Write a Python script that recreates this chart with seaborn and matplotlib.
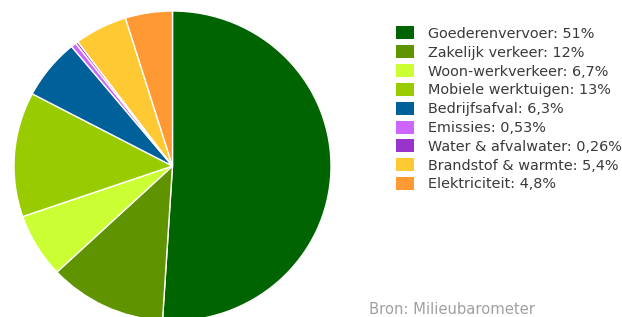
import matplotlib
matplotlib.use("Agg")
import matplotlib.pyplot as plt
from matplotlib.patches import Patch
import seaborn as sns

categories = ["Goederenvervoer", "Zakelijk verkeer", "Woon-werkverkeer", "Mobiele werktuigen",
              "Bedrijfsafval", "Emissies", "Water & afvalwater", "Brandstof & warmte", "Elektriciteit"]
values = [51, 12, 6.7, 13, 6.3, 0.53, 0.26, 5.4, 4.8]
value_labels = ["51%", "12%", "6,7%", "13%", "6,3%", "0,53%", "0,26%", "5,4%", "4,8%"]
colors = ["#006400", "#5f9400", "#ccff33", "#99cc00", "#00609a", "#cc66ff", "#9933cc", "#ffc933", "#ff9933"]
source = "Bron: Milieubarometer"

sns.set_theme(style="white")
plt.rcParams['font.family'] = ['DejaVu Sans']

W, H = 622, 317
fig = plt.figure(figsize=(W / 100, H / 100), dpi=100)
# pie box: x 14..331, y 11..321 (pixels from top)
ax = fig.add_axes([14 / W, (H - 321) / H, 317 / W, 310 / H])
ax.pie(values, colors=colors, startangle=90, counterclock=False, radius=1,
       wedgeprops=dict(edgecolor="white", linewidth=1.0))
ax.set_xlim(-1, 1)
ax.set_ylim(-1, 1)
ax.set_aspect("auto")
ax.axis("off")

fs = 10.4
handles = [Patch(facecolor=c, edgecolor="none") for c in colors]
labels = [f"{c}: {v}" for c, v in zip(categories, value_labels)]
leg = fig.legend(handles, labels, loc="upper left", bbox_to_anchor=(396 / W, 1 - 26.5 / H),
                 frameon=False, fontsize=fs, handlelength=1.25, handleheight=1.0,
                 handletextpad=0.95, labelspacing=0.305, borderpad=0, borderaxespad=0)
for t in leg.get_texts():
    t.set_color("#3a3a3a")

fig.text(369 / W, 1 - 310 / H, source, fontsize=10.6, color="#a0a0a0", va="center", ha="left")

fig.savefig("out.png", dpi=100)
